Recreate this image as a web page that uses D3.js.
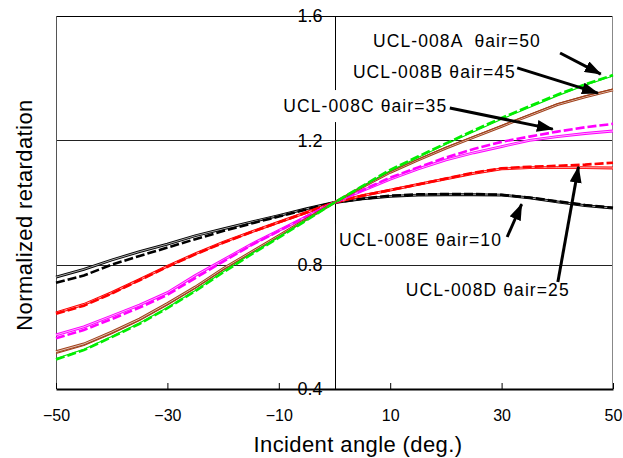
<!DOCTYPE html>
<html>
<head>
<meta charset="utf-8">
<script src="https://cdn.jsdelivr.net/npm/d3@7"></script>
<style>
  body { margin: 0; background: #fff; }
  svg { display: block; font-family: "Liberation Sans", Arial, sans-serif; }
</style>
</head>
<body>
<div id="chart"></div>
<script>

// incident angles (deg.)
var angles = [-50, -45, -40, -35, -30, -25, -20, -15, -10, -5, 0, 5, 10, 15, 20, 25, 30, 35, 40, 45, 50];

// normalized retardation
var aDashed = [0.495, 0.525, 0.567, 0.610, 0.660, 0.715, 0.775, 0.832, 0.887, 0.943, 1.0, 1.053, 1.105, 1.148, 1.190, 1.232, 1.272, 1.310, 1.347, 1.380, 1.410];
var aSolid  = [0.498, 0.528, 0.569, 0.612, 0.662, 0.717, 0.777, 0.834, 0.888, 0.944, 1.0, 1.052, 1.102, 1.145, 1.187, 1.228, 1.268, 1.306, 1.343, 1.377, 1.407];
var bSolid  = [0.520, 0.545, 0.583, 0.625, 0.675, 0.728, 0.787, 0.840, 0.893, 0.947, 1.0, 1.050, 1.097, 1.137, 1.175, 1.210, 1.245, 1.280, 1.315, 1.340, 1.362];
var bSolid2 = [0.514, 0.540, 0.578, 0.620, 0.670, 0.724, 0.783, 0.837, 0.891, 0.946, 1.0, 1.051, 1.099, 1.139, 1.178, 1.213, 1.248, 1.283, 1.318, 1.343, 1.365];
var cSolid  = [0.574, 0.600, 0.635, 0.670, 0.710, 0.765, 0.815, 0.865, 0.910, 0.955, 1.0, 1.038, 1.075, 1.108, 1.137, 1.160, 1.180, 1.200, 1.212, 1.222, 1.230];
var cDashed = [0.563, 0.590, 0.625, 0.662, 0.703, 0.757, 0.810, 0.862, 0.908, 0.955, 1.0, 1.040, 1.080, 1.113, 1.145, 1.172, 1.195, 1.212, 1.228, 1.242, 1.253];
var dSolid  = [0.645, 0.672, 0.710, 0.752, 0.795, 0.835, 0.872, 0.905, 0.937, 0.968, 1.0, 1.022, 1.040, 1.058, 1.076, 1.094, 1.108, 1.112, 1.112, 1.112, 1.111];
var dDashed = [0.642, 0.668, 0.707, 0.750, 0.793, 0.833, 0.870, 0.904, 0.936, 0.968, 1.0, 1.022, 1.040, 1.058, 1.077, 1.096, 1.110, 1.115, 1.118, 1.122, 1.128];
var eSolid  = [0.760, 0.785, 0.815, 0.842, 0.866, 0.893, 0.915, 0.937, 0.958, 0.980, 1.0, 1.012, 1.020, 1.024, 1.025, 1.025, 1.024, 1.015, 1.002, 0.990, 0.982];
var eDashed = [0.742, 0.765, 0.800, 0.828, 0.855, 0.882, 0.908, 0.932, 0.955, 0.978, 1.0, 1.012, 1.022, 1.026, 1.027, 1.027, 1.025, 1.016, 1.004, 0.992, 0.983];

var xTicks = [-50, -30, -10, 10, 30, 50];
var yTicks = [0.4, 0.8, 1.2, 1.6];

var seriesList = [
	{ values: eSolid,  color: "#000000", kind: "hollow" },
	{ values: eDashed, color: "#000000", kind: "dashed" },
	{ values: dSolid,  color: "#ff0000", kind: "hollow" },
	{ values: dDashed, color: "#ff0000", kind: "dashed" },
	{ values: cSolid,  color: "#ff00ff", kind: "hollow" },
	{ values: cDashed, color: "#ff00ff", kind: "dashed" },
	{ values: bSolid,  color: "#a0401a", kind: "hollow" },
	{ values: bSolid2, color: "#a0401a", kind: "thin" },
	{ values: aSolid,  color: "#00e000", kind: "thin" },
	{ values: aDashed, color: "#00ee00", kind: "dashed" }
];

// annotation labels and arrows (data units)
var notes = [
	{ text: "UCL-008A  \u03B8air=50", x: 6.9,  y: 1.500, from: [40.5, 1.481], to: [47.8, 1.413] },
	{ text: "UCL-008B \u03B8air=45",  x: 3.3,  y: 1.400, from: [32.8, 1.433], to: [47.3, 1.352] },
	{ text: "UCL-008C \u03B8air=35",  x: -9.2, y: 1.291, from: [20.7, 1.304], to: [39.2, 1.236] },
	{ text: "UCL-008E \u03B8air=10",  x: 0.8,  y: 0.860, from: [31.0, 0.889], to: [33.6, 0.995] },
	{ text: "UCL-008D \u03B8air=25",  x: 12.8, y: 0.699, from: [40.1, 0.744], to: [43.8, 1.115] }
];

function init() {

	var width = 623;
	var height = 458;
	var margin = { top: 16, right: 10, bottom: 69, left: 56 };

	var svg = d3.select("#chart")
		.append("svg")
		.attr("width", width)
		.attr("height", height);

	var x = d3.scaleLinear()
		.domain([-50, 50])
		.range([margin.left, width - margin.right]);

	var y = d3.scaleLinear()
		.domain([0.4, 1.6])
		.range([height - margin.bottom, margin.top]);

	// arrow head
	svg.append("defs")
		.append("marker")
		.attr("id", "head")
		.attr("markerUnits", "userSpaceOnUse")
		.attr("viewBox", "0 0 17 12")
		.attr("refX", 16)
		.attr("refY", 6)
		.attr("markerWidth", 17)
		.attr("markerHeight", 12)
		.attr("orient", "auto")
		.append("path")
		.attr("d", "M0,0 L17,6 L0,12 Z")
		.attr("fill", "#000");

	// horizontal grid lines
	svg.append("g")
		.selectAll("line")
		.data([0.8, 1.2])
		.enter()
		.append("line")
		.attr("x1", x(-50))
		.attr("x2", x(50))
		.attr("y1", function(d) { return Math.round(y(d)) + 0.5; })
		.attr("y2", function(d) { return Math.round(y(d)) + 0.5; })
		.attr("stroke", "#222")
		.attr("stroke-width", 1);

	// frame
	svg.append("line")
		.attr("x1", x(-50)).attr("x2", x(50))
		.attr("y1", y(1.6) + 0.5).attr("y2", y(1.6) + 0.5)
		.attr("stroke", "#000");
	svg.append("line")
		.attr("x1", x(-50) + 0.5).attr("x2", x(-50) + 0.5)
		.attr("y1", y(1.6)).attr("y2", y(0.4))
		.attr("stroke", "#555");
	svg.append("line")
		.attr("x1", x(50) - 0.5).attr("x2", x(50) - 0.5)
		.attr("y1", y(1.6)).attr("y2", y(0.4))
		.attr("stroke", "#888");

	// vertical axis at 0
	svg.append("line")
		.attr("x1", Math.round(x(0)) + 0.5).attr("x2", Math.round(x(0)) + 0.5)
		.attr("y1", y(1.6)).attr("y2", y(0.4))
		.attr("stroke", "#000");

	// bottom axis
	var xAxis = d3.axisBottom(x)
		.tickValues(xTicks)
		.tickSize(-6)
		.tickSizeOuter(0)
		.tickPadding(21)
		.tickFormat(function(d) { return d < 0 ? "\u2212" + Math.abs(d) : d; });

	var gx = svg.append("g")
		.attr("transform", "translate(0," + y(0.4) + ")")
		.call(xAxis);
	gx.select(".domain").attr("stroke", "#000").attr("stroke-width", 2);
	gx.selectAll(".tick line").attr("stroke", "#000");
	gx.selectAll(".tick text")
		.attr("font-size", 16)
		.attr("font-family", "Liberation Sans, Arial, sans-serif")
		.attr("fill", "#000");

	// y tick labels sit left of the zero line
	svg.append("g")
		.selectAll("text")
		.data(yTicks)
		.enter()
		.append("text")
		.attr("x", x(0) - 12)
		.attr("y", function(d) { return y(d); })
		.attr("dy", "0.36em")
		.attr("text-anchor", "end")
		.attr("font-size", 18)
		.attr("fill", "#000")
		.text(function(d) { return d.toFixed(1); });

	// data lines
	var line = d3.line()
		.x(function(d, i) { return x(angles[i]); })
		.y(function(d) { return y(d); });

	var lines = svg.append("g").attr("fill", "none");

	seriesList.forEach(function(s) {
		if (s.kind == "hollow") {
			lines.append("path")
				.attr("d", line(s.values))
				.attr("stroke", s.color)
				.attr("stroke-width", 2.8);
			lines.append("path")
				.attr("d", line(s.values))
				.attr("stroke", "#fff")
				.attr("stroke-opacity", 0.75)
				.attr("stroke-width", 0.9);
		} else if (s.kind == "dashed") {
			lines.append("path")
				.attr("d", line(s.values))
				.attr("stroke", s.color)
				.attr("stroke-width", 2.6)
				.attr("stroke-dasharray", "9,3");
		} else {
			lines.append("path")
				.attr("d", line(s.values))
				.attr("stroke", s.color)
				.attr("stroke-width", 1.1);
		}
	});

	// annotations
	var note = svg.append("g").selectAll("g")
		.data(notes)
		.enter()
		.append("g");

	note.append("text")
		.attr("x", function(d) { return x(d.x); })
		.attr("y", function(d) { return y(d.y); })
		.attr("font-size", 17.5)
		.attr("letter-spacing", 1.1)
		.style("white-space", "pre")
		.attr("fill", "#000")
		.text(function(d) { return d.text; });

	// white box behind label text
	note.each(function(d) {
		var t = d3.select(this).select("text");
		var b = t.node().getBBox();
		d3.select(this).insert("rect", "text")
			.attr("x", b.x - 3)
			.attr("y", b.y - 6)
			.attr("width", b.width + 6)
			.attr("height", b.height + 12)
			.attr("fill", "#fff");
	});

	note.append("line")
		.attr("x1", function(d) { return x(d.from[0]); })
		.attr("y1", function(d) { return y(d.from[1]); })
		.attr("x2", function(d) { return x(d.to[0]); })
		.attr("y2", function(d) { return y(d.to[1]); })
		.attr("stroke", "#000")
		.attr("stroke-width", 3)
		.attr("marker-end", "url(#head)");

	// axis titles
	svg.append("text")
		.attr("x", 358)
		.attr("y", 452)
		.attr("text-anchor", "middle")
		.attr("font-size", 22)
		.attr("letter-spacing", 0.4)
		.attr("fill", "#000")
		.text("Incident angle (deg.)");

	svg.append("text")
		.attr("transform", "translate(32,215) rotate(-90)")
		.attr("text-anchor", "middle")
		.attr("font-size", 22)
		.attr("letter-spacing", 0.4)
		.attr("fill", "#000")
		.text("Normalized retardation");
}

init();
</script>
</body>
</html>
